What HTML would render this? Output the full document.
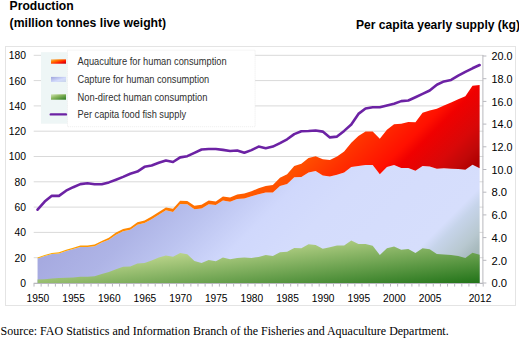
<!DOCTYPE html>
<html><head><meta charset="utf-8">
<style>
html,body{margin:0;padding:0;background:#fff;}
body{width:519px;height:338px;overflow:hidden;position:relative;}
svg{position:absolute;left:0;top:0;}
text{font-family:"Liberation Sans",sans-serif;}
.src{font-family:"Liberation Serif",serif;}
</style></head>
<body>
<svg width="519" height="338" viewBox="0 0 519 338">
<defs>
<linearGradient id="gLav" gradientUnits="userSpaceOnUse" x1="100.8" y1="100.8" x2="381.3" y2="381.3">
 <stop offset="0" stop-color="#9ca0d8"/>
 <stop offset="0.18" stop-color="#a6aae0"/>
 <stop offset="0.29" stop-color="#aeb4e6"/>
 <stop offset="0.39" stop-color="#bcc4f0"/>
 <stop offset="0.50" stop-color="#d0d8fc"/>
 <stop offset="0.60" stop-color="#d4dcfc"/>
 <stop offset="0.83" stop-color="#d6defc"/>
 <stop offset="0.855" stop-color="#c6d4ea"/>
 <stop offset="0.906" stop-color="#b8c8d0"/>
 <stop offset="0.93" stop-color="#aabcc0"/>
 <stop offset="1" stop-color="#90a8a0"/>
</linearGradient>
<linearGradient id="gRed" gradientUnits="userSpaceOnUse" x1="150" y1="150" x2="320" y2="320">
 <stop offset="0" stop-color="#ffac00"/>
 <stop offset="0.241" stop-color="#ff7800"/>
 <stop offset="0.482" stop-color="#ff5000"/>
 <stop offset="0.6" stop-color="#ff3000"/>
 <stop offset="0.735" stop-color="#ff1000"/>
 <stop offset="0.78" stop-color="#f00000"/>
 <stop offset="0.888" stop-color="#d80808"/>
 <stop offset="0.953" stop-color="#c00808"/>
 <stop offset="1" stop-color="#b00000"/>
</linearGradient>
<linearGradient id="gGreen" gradientUnits="userSpaceOnUse" x1="37.6" y1="240" x2="47.3" y2="329.8">
 <stop offset="0" stop-color="#ffffbd"/>
 <stop offset="1" stop-color="#217318"/>
</linearGradient>
<linearGradient id="sRed" x1="0" y1="0" x2="1" y2="1">
 <stop offset="0" stop-color="#f2c080"/>
 <stop offset="0.3" stop-color="#ff8000"/>
 <stop offset="0.7" stop-color="#ff1000"/>
 <stop offset="1" stop-color="#b00010"/>
</linearGradient>
<linearGradient id="sLav" x1="0" y1="0" x2="1" y2="1">
 <stop offset="0" stop-color="#9ea4dc"/>
 <stop offset="0.6" stop-color="#d4dcfc"/>
 <stop offset="1" stop-color="#c8d4e8"/>
</linearGradient>
<linearGradient id="sGreen" x1="0" y1="0" x2="1" y2="1">
 <stop offset="0" stop-color="#d0e4b8"/>
 <stop offset="0.4" stop-color="#8cb860"/>
 <stop offset="1" stop-color="#2a7a20"/>
</linearGradient>
</defs>
<rect x="5.5" y="46.5" width="510" height="259" fill="none" stroke="#e4e4e4" stroke-width="1"/>
<g stroke="#d9d9d9" stroke-width="1">
<line x1="33.7" y1="283.00" x2="483.3" y2="283.00"/>
<line x1="33.7" y1="257.70" x2="483.3" y2="257.70"/>
<line x1="33.7" y1="232.40" x2="483.3" y2="232.40"/>
<line x1="33.7" y1="207.10" x2="483.3" y2="207.10"/>
<line x1="33.7" y1="181.80" x2="483.3" y2="181.80"/>
<line x1="33.7" y1="156.50" x2="483.3" y2="156.50"/>
<line x1="33.7" y1="131.20" x2="483.3" y2="131.20"/>
<line x1="33.7" y1="105.90" x2="483.3" y2="105.90"/>
<line x1="33.7" y1="80.60" x2="483.3" y2="80.60"/>
<line x1="33.7" y1="55.30" x2="483.3" y2="55.30"/>
</g>
<polygon points="37.56,283.0 37.56,258.40 44.70,256.10 51.83,254.10 58.95,253.50 66.09,251.10 73.22,249.00 80.34,247.00 87.47,247.10 94.60,246.20 101.73,242.60 108.86,239.80 116.00,234.70 123.12,231.30 130.25,229.70 137.38,224.70 144.51,223.10 151.64,219.20 158.77,214.70 165.91,210.30 173.03,211.90 180.16,204.00 187.29,204.30 194.43,209.20 201.56,208.40 208.69,204.30 215.81,205.00 222.94,200.50 230.07,201.70 237.20,199.00 244.34,198.40 251.47,196.30 258.60,194.20 265.73,192.40 272.86,192.40 279.99,186.00 287.12,183.90 294.25,177.30 301.38,176.90 308.50,172.40 315.63,171.10 322.76,175.50 329.89,176.40 337.02,174.80 344.15,172.60 351.28,167.10 358.42,166.00 365.55,164.90 372.68,164.90 379.81,174.20 386.94,167.10 394.06,165.00 401.19,167.90 408.32,167.90 415.45,170.80 422.58,166.00 429.71,166.40 436.84,168.70 443.97,168.30 451.11,168.70 458.24,169.10 465.37,169.70 472.50,164.80 479.62,168.30 479.62,283.0" fill="url(#gLav)"/>
<polygon points="37.56,257.40 44.70,255.00 51.83,252.90 58.95,252.30 66.09,249.80 73.22,247.70 80.34,245.60 87.47,245.60 94.60,244.60 101.73,240.90 108.86,237.80 116.00,232.60 123.12,229.10 130.25,227.40 137.38,222.30 144.51,220.60 151.64,216.50 158.77,211.90 165.91,207.40 173.03,208.80 180.16,200.70 187.29,200.90 194.43,205.70 201.56,204.70 208.69,200.50 215.81,201.60 222.94,196.50 230.07,197.60 237.20,194.50 244.34,193.40 251.47,191.30 258.60,188.20 265.73,186.00 272.86,185.10 279.99,177.70 287.12,174.20 294.25,165.90 301.38,163.80 308.50,158.00 315.63,156.20 322.76,159.30 329.89,160.00 337.02,156.40 344.15,151.60 351.28,142.70 358.42,136.00 365.55,131.60 372.68,131.60 379.81,138.70 386.94,129.80 394.06,124.20 401.19,123.80 408.32,121.90 415.45,122.30 422.58,112.70 429.71,110.40 436.84,108.80 443.97,105.40 451.11,102.50 458.24,99.20 465.37,96.30 472.50,85.70 479.62,85.10 479.62,168.30 472.50,164.80 465.37,169.70 458.24,169.10 451.11,168.70 443.97,168.30 436.84,168.70 429.71,166.40 422.58,166.00 415.45,170.80 408.32,167.90 401.19,167.90 394.06,165.00 386.94,167.10 379.81,174.20 372.68,164.90 365.55,164.90 358.42,166.00 351.28,167.10 344.15,172.60 337.02,174.80 329.89,176.40 322.76,175.50 315.63,171.10 308.50,172.40 301.38,176.90 294.25,177.30 287.12,183.90 279.99,186.00 272.86,192.40 265.73,192.40 258.60,194.20 251.47,196.30 244.34,198.40 237.20,199.00 230.07,201.70 222.94,200.50 215.81,205.00 208.69,204.30 201.56,208.40 194.43,209.20 187.29,204.30 180.16,204.00 173.03,211.90 165.91,210.30 158.77,214.70 151.64,219.20 144.51,223.10 137.38,224.70 130.25,229.70 123.12,231.30 116.00,234.70 108.86,239.80 101.73,242.60 94.60,246.20 87.47,247.10 80.34,247.00 73.22,249.00 66.09,251.10 58.95,253.50 51.83,254.10 44.70,256.10 37.56,258.40" fill="url(#gRed)"/>
<polygon points="37.56,283.0 37.56,279.60 44.70,279.20 51.83,278.60 58.95,278.10 66.09,277.70 73.22,277.50 80.34,276.70 87.47,276.70 94.60,276.30 101.73,274.00 108.86,271.90 116.00,269.20 123.12,266.80 130.25,266.40 137.38,263.50 144.51,262.90 151.64,260.40 158.77,257.50 165.91,255.60 173.03,256.80 180.16,252.90 187.29,254.30 194.43,261.00 201.56,262.90 208.69,260.00 215.81,261.20 222.94,257.60 230.07,259.30 237.20,257.90 244.34,257.40 251.47,257.90 258.60,257.00 265.73,255.00 272.86,256.00 279.99,252.20 287.12,251.80 294.25,247.90 301.38,248.30 308.50,244.30 315.63,245.00 322.76,248.70 329.89,247.30 337.02,245.40 344.15,245.40 351.28,240.60 358.42,243.90 365.55,243.90 372.68,245.80 379.81,255.00 386.94,248.30 394.06,246.40 401.19,249.70 408.32,248.90 415.45,253.10 422.58,248.30 429.71,249.30 436.84,254.10 443.97,254.50 451.11,255.00 458.24,256.00 465.37,257.90 472.50,252.70 479.62,254.70 479.62,283.0" fill="url(#gGreen)"/>
<path d="M33.7 283.5H482.9M34.00 283.5V286.6M41.13 283.5V286.6M48.26 283.5V286.6M55.39 283.5V286.6M62.52 283.5V286.6M69.65 283.5V286.6M76.78 283.5V286.6M83.91 283.5V286.6M91.04 283.5V286.6M98.17 283.5V286.6M105.30 283.5V286.6M112.43 283.5V286.6M119.56 283.5V286.6M126.69 283.5V286.6M133.82 283.5V286.6M140.95 283.5V286.6M148.08 283.5V286.6M155.21 283.5V286.6M162.34 283.5V286.6M169.47 283.5V286.6M176.60 283.5V286.6M183.73 283.5V286.6M190.86 283.5V286.6M197.99 283.5V286.6M205.12 283.5V286.6M212.25 283.5V286.6M219.38 283.5V286.6M226.51 283.5V286.6M233.64 283.5V286.6M240.77 283.5V286.6M247.90 283.5V286.6M255.03 283.5V286.6M262.16 283.5V286.6M269.29 283.5V286.6M276.42 283.5V286.6M283.55 283.5V286.6M290.68 283.5V286.6M297.81 283.5V286.6M304.94 283.5V286.6M312.07 283.5V286.6M319.20 283.5V286.6M326.33 283.5V286.6M333.46 283.5V286.6M340.59 283.5V286.6M347.72 283.5V286.6M354.85 283.5V286.6M361.98 283.5V286.6M369.11 283.5V286.6M376.24 283.5V286.6M383.37 283.5V286.6M390.50 283.5V286.6M397.63 283.5V286.6M404.76 283.5V286.6M411.89 283.5V286.6M419.02 283.5V286.6M426.15 283.5V286.6M433.28 283.5V286.6M440.41 283.5V286.6M447.54 283.5V286.6M454.67 283.5V286.6M461.80 283.5V286.6M468.93 283.5V286.6M476.06 283.5V286.6M483.19 283.5V286.6" stroke="#b8b8be" stroke-width="1" fill="none"/>
<path d="M482.9 55V283.5M482.9 283.00H486.4M482.9 260.30H486.4M482.9 237.60H486.4M482.9 214.90H486.4M482.9 192.20H486.4M482.9 169.50H486.4M482.9 146.80H486.4M482.9 124.10H486.4M482.9 101.40H486.4M482.9 78.70H486.4M482.9 56.00H486.4" stroke="#b8b8be" stroke-width="1" fill="none"/>
<polyline points="37.56,209.70 44.70,201.60 51.83,195.70 58.95,195.90 66.09,190.70 73.22,187.20 80.34,184.10 87.47,183.30 94.60,184.30 101.73,184.30 108.86,182.40 116.00,179.70 123.12,176.90 130.25,173.70 137.38,171.60 144.51,166.80 151.64,165.50 158.77,162.80 165.91,160.50 173.03,162.00 180.16,157.40 187.29,156.20 194.43,152.80 201.56,149.50 208.69,149.00 215.81,149.00 222.94,149.90 230.07,151.00 237.20,150.50 244.34,152.80 251.47,150.10 258.60,146.60 265.73,148.20 272.86,146.60 279.99,143.10 287.12,139.30 294.25,134.10 301.38,131.20 308.50,131.00 315.63,130.50 322.76,131.60 329.89,137.40 337.02,136.60 344.15,130.90 351.28,124.50 358.42,113.90 365.55,108.50 372.68,107.20 379.81,107.20 386.94,105.40 394.06,103.70 401.19,101.10 408.32,100.50 415.45,97.20 422.58,93.90 429.71,90.50 436.84,84.70 443.97,81.40 451.11,79.90 458.24,75.60 465.37,71.80 472.50,68.30 479.62,65.00" fill="none" stroke="#6c22a4" stroke-width="2.6" stroke-linejoin="round" stroke-linecap="round"/>
<rect x="41" y="52.2" width="26.6" height="71.5" fill="#eef6f6"/>
<rect x="67.5" y="50.2" width="187.6" height="76.5" fill="#fff" stroke="#e8e8e8" stroke-width="0.8" stroke-dasharray="1 1"/>
<rect x="51" y="59.3" width="15" height="4.4" fill="url(#sRed)"/>
<rect x="51" y="76.9" width="15" height="5.1" fill="url(#sLav)"/>
<rect x="51" y="94.3" width="15" height="5.4" fill="url(#sGreen)"/>
<line x1="50.8" y1="114.4" x2="65.9" y2="114.4" stroke="#6c22a4" stroke-width="2.4" stroke-linecap="round"/>
<g font-size="10" fill="#303030" lengthAdjust="spacingAndGlyphs">
<text x="77.6" y="64.8" textLength="149" lengthAdjust="spacingAndGlyphs">Aquaculture for human consumption</text>
<text x="77.6" y="82.8" textLength="131.6" lengthAdjust="spacingAndGlyphs">Capture for human consumption</text>
<text x="77.6" y="100.5" textLength="129.8" lengthAdjust="spacingAndGlyphs">Non-direct human consumption</text>
<text x="77.6" y="117.9" textLength="108.5" lengthAdjust="spacingAndGlyphs">Per capita food fish supply</text>
</g>
<g font-size="10" fill="#000">
<text x="25.9" y="286.90" text-anchor="end" font-size="10.3">0</text>
<text x="25.9" y="261.60" text-anchor="end" font-size="10.3">20</text>
<text x="25.9" y="236.30" text-anchor="end" font-size="10.3">40</text>
<text x="25.9" y="211.00" text-anchor="end" font-size="10.3">60</text>
<text x="25.9" y="185.70" text-anchor="end" font-size="10.3">80</text>
<text x="25.9" y="160.40" text-anchor="end" font-size="10.3">100</text>
<text x="25.9" y="135.10" text-anchor="end" font-size="10.3">120</text>
<text x="25.9" y="109.80" text-anchor="end" font-size="10.3">140</text>
<text x="25.9" y="84.50" text-anchor="end" font-size="10.3">160</text>
<text x="25.9" y="59.20" text-anchor="end" font-size="10.3">180</text>
<text x="491.4" y="287.20" textLength="15.6" lengthAdjust="spacingAndGlyphs">0.0</text>
<text x="491.4" y="264.50" textLength="15.6" lengthAdjust="spacingAndGlyphs">2.0</text>
<text x="491.4" y="241.80" textLength="15.6" lengthAdjust="spacingAndGlyphs">4.0</text>
<text x="491.4" y="219.10" textLength="15.6" lengthAdjust="spacingAndGlyphs">6.0</text>
<text x="491.4" y="196.40" textLength="15.6" lengthAdjust="spacingAndGlyphs">8.0</text>
<text x="491.4" y="173.70" textLength="21.0" lengthAdjust="spacingAndGlyphs">10.0</text>
<text x="491.4" y="151.00" textLength="21.0" lengthAdjust="spacingAndGlyphs">12.0</text>
<text x="491.4" y="128.30" textLength="21.0" lengthAdjust="spacingAndGlyphs">14.0</text>
<text x="491.4" y="105.60" textLength="21.0" lengthAdjust="spacingAndGlyphs">16.0</text>
<text x="491.4" y="82.90" textLength="21.0" lengthAdjust="spacingAndGlyphs">18.0</text>
<text x="491.4" y="60.20" textLength="21.0" lengthAdjust="spacingAndGlyphs">20.0</text>
<text x="37.96" y="302.1" text-anchor="middle" font-size="10.2">1950</text>
<text x="73.62" y="302.1" text-anchor="middle" font-size="10.2">1955</text>
<text x="109.27" y="302.1" text-anchor="middle" font-size="10.2">1960</text>
<text x="144.91" y="302.1" text-anchor="middle" font-size="10.2">1965</text>
<text x="180.56" y="302.1" text-anchor="middle" font-size="10.2">1970</text>
<text x="216.22" y="302.1" text-anchor="middle" font-size="10.2">1975</text>
<text x="251.87" y="302.1" text-anchor="middle" font-size="10.2">1980</text>
<text x="287.51" y="302.1" text-anchor="middle" font-size="10.2">1985</text>
<text x="323.16" y="302.1" text-anchor="middle" font-size="10.2">1990</text>
<text x="358.81" y="302.1" text-anchor="middle" font-size="10.2">1995</text>
<text x="394.46" y="302.1" text-anchor="middle" font-size="10.2">2000</text>
<text x="430.11" y="302.1" text-anchor="middle" font-size="10.2">2005</text>
<text x="480.02" y="302.1" text-anchor="middle" font-size="10.2">2012</text>
</g>
<g font-size="12" font-weight="bold" fill="#000">
<text x="9.6" y="9.6" textLength="64" lengthAdjust="spacingAndGlyphs">Production</text>
<text x="9.6" y="27" textLength="156.6" lengthAdjust="spacingAndGlyphs">(million tonnes live weight)</text>
<text x="356" y="28.6" textLength="164" lengthAdjust="spacingAndGlyphs">Per capita yearly supply (kg)</text>
</g>
<text class="src" x="0.5" y="335.3" font-size="12.2" fill="#000" textLength="448.2" lengthAdjust="spacingAndGlyphs">Source: FAO Statistics and Information Branch of the Fisheries and Aquaculture Department.</text>
</svg>
</body></html>
